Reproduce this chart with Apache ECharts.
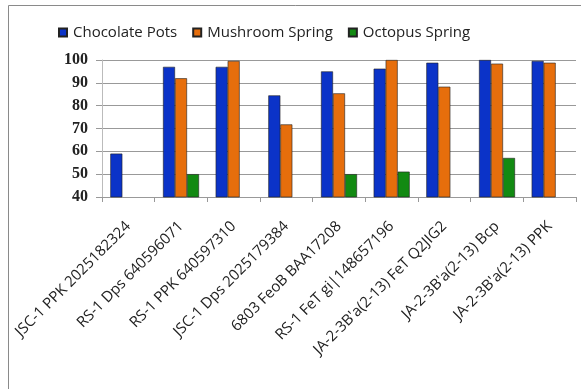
<!DOCTYPE html>
<html>
<head>
<meta charset="utf-8">
<script src="https://cdn.jsdelivr.net/npm/echarts@6/dist/echarts.min.js"></script>
<style>
  html, body { margin: 0; padding: 0; background: #fff; }
  #chart { width: 581px; height: 389px; }
</style>
</head>
<body>
<div id="chart"></div>
<script>
  // --- data ---
  const categories = [
    "JSC-1 PPK 2025182324",
    "RS-1 Dps 640596071",
    "RS-1 PPK 640597310",
    "JSC-1 Dps 2025179384",
    "6803 FeoB BAA17208",
    "RS-1 FeT gi|148657196",
    "JA-2-3B'a(2-13) FeT Q2JIG2",
    "JA-2-3B'a(2-13) Bcp",
    "JA-2-3B'a(2-13) PPK"
  ];
  const chocolatePots = [59, 97, 97, 84.5, 95, 96.2, 98.8, 100, 99.6];
  const mushroomSpring = [null, 92, 99.6, 71.8, 85.4, 100, 88.3, 98.4, 98.8];
  const octopusSpring = [null, 50, null, null, 50, 51.1, null, 57.1, null];
  const yTicks = { min: 40, max: 100, step: 10 };

  const chart = echarts.init(document.getElementById("chart"));

  function bar(name, data, color) {
    return {
      name: name,
      type: "bar",
      data: data,
      barWidth: 12,
      barGap: "0%",
      itemStyle: { color: color, borderColor: "#222", borderWidth: 0.6 }
    };
  }

  chart.setOption({
    animation: false,
    textStyle: { fontFamily: "Open Sans" },
    graphic: [{
      type: "rect",
      shape: { x: 8.5, y: 5.5, width: 600, height: 400 },
      style: { fill: "none", stroke: "#8a8a8a", lineWidth: 1 },
      silent: true
    }],
    legend: {
      top: 20,
      left: 53,
      itemWidth: 8,
      itemHeight: 8,
      itemGap: 15,
      icon: "rect",
      textStyle: { fontFamily: "Open Sans", fontSize: 15, color: "#222", padding: [0, 0, 0, 1] },
      data: ["Chocolate Pots", "Mushroom Spring", "Octopus Spring"]
    },
    grid: { left: 102, right: 5, top: 60, bottom: 192 },
    xAxis: {
      type: "category",
      data: categories,
      boundaryGap: true,
      axisLine: { lineStyle: { color: "#999" } },
      axisTick: { show: true, alignWithLabel: false, length: 5, lineStyle: { color: "#999" } },
      axisLabel: {
        rotate: 45,
        interval: 0,
        margin: 27,
        fontFamily: "Open Sans",
        fontSize: 15,
        color: "#222"
      }
    },
    yAxis: {
      type: "value",
      min: yTicks.min,
      max: yTicks.max,
      interval: yTicks.step,
      axisLine: { show: true, lineStyle: { color: "#bbb" } },
      axisTick: { show: true, length: 6, lineStyle: { color: "#999" } },
      splitLine: { lineStyle: { color: "#999" } },
      axisLabel: {
        margin: 14,
        fontFamily: "'Liberation Serif', 'Times New Roman', serif",
        fontWeight: "bold",
        fontSize: 16,
        color: "#222"
      }
    },
    series: [
      bar("Chocolate Pots", chocolatePots, "#0b33c8"),
      bar("Mushroom Spring", mushroomSpring, "#e66e0c"),
      bar("Octopus Spring", octopusSpring, "#128a12")
    ]
  });
</script>
</body>
</html>
